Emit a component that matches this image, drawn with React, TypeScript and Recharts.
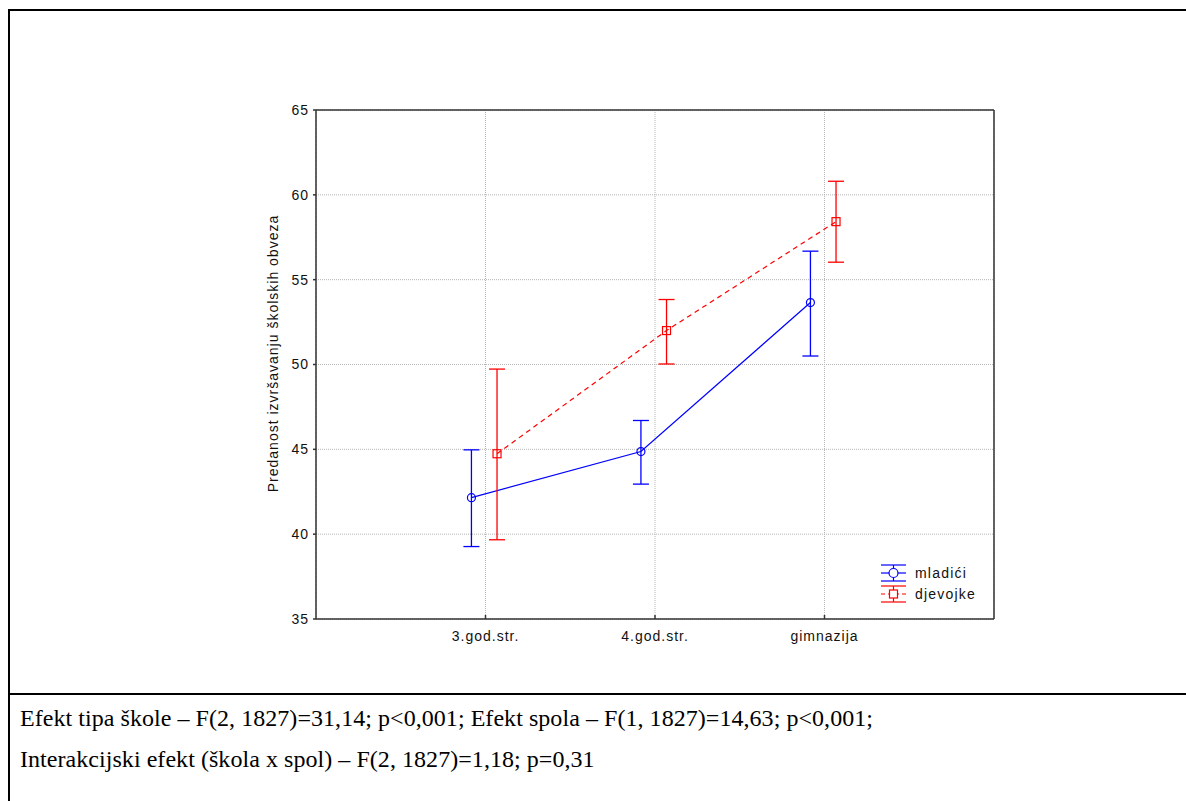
import React from "react";
import { LineChart, Line, XAxis, YAxis, CartesianGrid, ErrorBar, Label } from "recharts";

const categories = ["3.god.str.", "4.god.str.", "gimnazija"];
const mladiciMean = [42.15, 44.87, 53.65];
const mladiciLow = [39.27, 42.95, 50.5];
const mladiciHigh = [44.97, 46.7, 56.68];
const djevojkeMean = [44.74, 52.0, 58.42];
const djevojkeLow = [39.67, 50.03, 56.03];
const djevojkeHigh = [49.73, 53.83, 60.8];
const yTicks = [35, 40, 45, 50, 55, 60, 65];
const xTicks = [1, 2, 3];
const statsLines = [
  "Efekt tipa škole – F(2, 1827)=31,14; p<0,001; Efekt spola – F(1, 1827)=14,63; p<0,001;",
  "Interakcijski efekt (škola x spol) – F(2, 1827)=1,18; p=0,31",
];

const BLUE = "#0000ff";
const RED = "#ff0000";
const AXIS = "#333";
const SANS = "'Liberation Sans', Arial, sans-serif";

// small horizontal offset so the two groups don't overlap at each category
const build = (mean: number[], low: number[], high: number[], shift: number) =>
  mean.map((m, i) => ({ x: i + 1 + shift, y: m, err: [m - low[i], high[i] - m] }));

const mladici = build(mladiciMean, mladiciLow, mladiciHigh, -0.083);
const djevojke = build(djevojkeMean, djevojkeLow, djevojkeHigh, 0.068);

const tickText = { fontFamily: SANS, fontSize: 14, letterSpacing: 1, fill: "#111" };

const CircleDot = (p: any) =>
  p.cx == null ? null : <circle cx={p.cx} cy={p.cy} r={4} fill="none" stroke={BLUE} strokeWidth={1.2} />;

const SquareDot = (p: any) =>
  p.cx == null ? null : (
    <rect x={p.cx - 4} y={p.cy - 4} width={8} height={8} fill="none" stroke={RED} strokeWidth={1.2} />
  );

const BottomTick = ({ x, y, payload }: any) => (
  <g>
    <line x1={x} x2={x} y1={y} y2={y - 4} stroke={AXIS} strokeWidth={1.5} />
    <text x={x} y={y + 22} textAnchor="middle" style={tickText}>
      {categories[payload.value - 1]}
    </text>
  </g>
);

const RightTick = ({ x, y }: any) => <line x1={x} x2={x - 4} y1={y} y2={y} stroke={AXIS} strokeWidth={1.5} />;

const YLabel = ({ viewBox }: any) => (
  <text
    transform={`translate(${viewBox.x + 17},${viewBox.y + viewBox.height / 2 - 11}) rotate(-90)`}
    textAnchor="middle"
    dominantBaseline="central"
    style={tickText}
  >
    Predanost izvršavanju školskih obveza
  </text>
);

const LegendIcon = ({ color, dashed, square }: { color: string; dashed?: boolean; square?: boolean }) => (
  <svg width={27} height={18} style={{ display: "block" }}>
    <line x1={1} x2={26} y1={1} y2={1} stroke={color} strokeWidth={1.2} />
    <line x1={1} x2={26} y1={17} y2={17} stroke={color} strokeWidth={1.2} />
    <line x1={13.5} x2={13.5} y1={1} y2={17} stroke={color} strokeWidth={1.2} />
    <line x1={1} x2={26} y1={9} y2={9} stroke={color} strokeWidth={1.2} strokeDasharray={dashed ? "4 3" : undefined} />
    {square ? (
      <rect x={9.5} y={5} width={8} height={8} fill="#fff" stroke={color} strokeWidth={1.2} />
    ) : (
      <circle cx={13.5} cy={9} r={4.5} fill="#fff" stroke={color} strokeWidth={1.2} />
    )}
  </svg>
);

export default function App() {
  return (
    <div style={{ position: "absolute", left: 0, top: 0, width: 1186, height: 801, background: "#fff", overflow: "hidden" }}>
      <div
        style={{
          position: "absolute",
          left: 8,
          top: 9,
          width: 1200,
          height: 820,
          borderLeft: "2px solid #000",
          borderTop: "2px solid #000",
        }}
      />
      <div style={{ position: "absolute", left: 8, top: 693, width: 1190, height: 0, borderTop: "2.5px solid #000" }} />

      <div style={{ position: "absolute", left: 0, top: 0 }}>
        <LineChart width={1186} height={690} margin={{ top: 109, right: 182, bottom: 41, left: 256 }}>
          <CartesianGrid stroke="#b5b5b5" strokeDasharray="1 1" />
          <XAxis
            dataKey="x"
            type="number"
            domain={[0, 4]}
            ticks={xTicks}
            height={30}
            tickSize={0}
            tickMargin={0}
            tickLine={false}
            tick={<BottomTick />}
            axisLine={{ stroke: AXIS, strokeWidth: 1.5 }}
            allowDataOverflow
          />
          <XAxis
            xAxisId="top"
            orientation="top"
            type="number"
            domain={[0, 4]}
            height={1}
            tick={false}
            tickLine={false}
            axisLine={{ stroke: AXIS, strokeWidth: 1.5 }}
          />
          <YAxis
            type="number"
            domain={[35, 65]}
            ticks={yTicks}
            width={60}
            tickSize={3}
            tickMargin={4}
            tick={tickText}
            tickLine={{ stroke: AXIS, strokeWidth: 1.5 }}
            axisLine={{ stroke: AXIS, strokeWidth: 1.5 }}
            allowDataOverflow
          >
            <Label content={<YLabel />} />
          </YAxis>
          <YAxis
            yAxisId="right"
            orientation="right"
            type="number"
            domain={[35, 65]}
            ticks={yTicks}
            width={10}
            tickSize={0}
            tickMargin={0}
            tickLine={false}
            tick={<RightTick />}
            axisLine={{ stroke: AXIS, strokeWidth: 1.5 }}
          />
          <Line
            data={mladici}
            dataKey="y"
            stroke={BLUE}
            strokeWidth={1.2}
            dot={<CircleDot />}
            activeDot={false}
            isAnimationActive={false}
          >
            <ErrorBar dataKey="err" direction="y" width={8} stroke={BLUE} strokeWidth={1.3} isAnimationActive={false} />
          </Line>
          <Line
            data={djevojke}
            dataKey="y"
            stroke={RED}
            strokeWidth={1.2}
            strokeDasharray="5 4"
            dot={<SquareDot />}
            activeDot={false}
            isAnimationActive={false}
          >
            <ErrorBar dataKey="err" direction="y" width={8} stroke={RED} strokeWidth={1.3} isAnimationActive={false} />
          </Line>
        </LineChart>
      </div>

      <div style={{ position: "absolute", left: 880, top: 562, fontFamily: SANS, fontSize: 14, letterSpacing: 1.2 }}>
        <div style={{ display: "flex", alignItems: "center", height: 21, color: "#111" }}>
          <LegendIcon color={BLUE} />
          <span style={{ marginLeft: 8 }}>mladići</span>
        </div>
        <div style={{ display: "flex", alignItems: "center", height: 21, color: "#111" }}>
          <LegendIcon color={RED} dashed square />
          <span style={{ marginLeft: 8 }}>djevojke</span>
        </div>
      </div>

      {statsLines.map((t, i) => (
        <div
          key={i}
          style={{
            position: "absolute",
            left: 20,
            top: 705 + i * 41,
            fontFamily: "'Liberation Serif', 'Times New Roman', serif",
            fontSize: 24,
            letterSpacing: 0.05,
            whiteSpace: "nowrap",
            color: "#000",
          }}
        >
          {t}
        </div>
      ))}
    </div>
  );
}
